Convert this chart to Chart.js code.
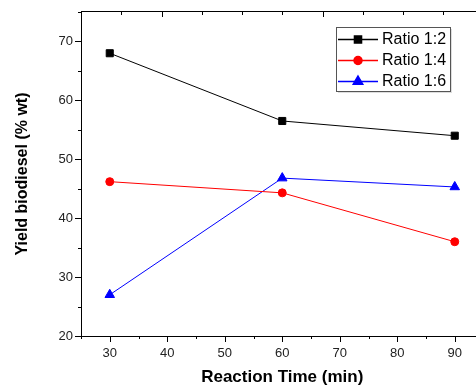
<!DOCTYPE html>
<html>
<head>
<meta charset="utf-8">
<script src="https://cdn.jsdelivr.net/npm/chart.js@4.4.1/dist/chart.umd.min.js"></script>
<style>
  html, body { margin: 0; padding: 0; background: #fff; overflow: hidden; }
  #wrap { position: relative; width: 490px; height: 388px; }
</style>
</head>
<body>
<div id="wrap"><canvas id="yieldChart" width="490" height="388"></canvas></div>
<script>
const times = [30, 60, 90];
const ratio12 = [68.0, 56.5, 54.0];
const ratio14 = [46.2, 44.3, 36.0];
const ratio16 = [27.0, 46.8, 45.3];
const seriesNames = ['Ratio 1:2', 'Ratio 1:4', 'Ratio 1:6'];
const xTicks = [30, 40, 50, 60, 70, 80, 90];
const yTicks = [20, 30, 40, 50, 60, 70];

const FONT = 'Arial, "Liberation Sans", sans-serif';

function pts(vals) {
  return times.map((t, i) => ({ x: t, y: vals[i] }));
}

// frame, major/minor ticks (Origin style)
const framePlugin = {
  id: 'frame',
  afterDraw(chart) {
    const { ctx, chartArea: a, scales } = chart;
    const x = scales.x, y = scales.y, top = scales.top;
    ctx.save();
    ctx.strokeStyle = '#000';
    ctx.lineWidth = 1;
    ctx.beginPath();
    ctx.moveTo(a.left + 0.5, a.top - 0.5);
    ctx.lineTo(a.left + 0.5, a.bottom + 3);
    ctx.moveTo(a.left, a.bottom + 0.5);
    ctx.lineTo(a.right, a.bottom + 0.5);
    ctx.moveTo(a.left, a.top - 0.5);
    ctx.lineTo(a.right, a.top - 0.5);
    ctx.moveTo(a.right - 0.5, a.top);
    ctx.lineTo(a.right - 0.5, a.bottom);
    // left axis ticks
    for (let v = 20; v <= 75; v += 5) {
      const py = Math.round(y.getPixelForValue(v)) + 0.5;
      const len = v % 10 === 0 ? 6 : 3;
      ctx.moveTo(a.left - len, py);
      ctx.lineTo(a.left, py);
    }
    // bottom axis ticks
    for (let v = 30; v <= 95; v += 5) {
      const px = Math.round(x.getPixelForValue(v)) + 0.5;
      const len = v % 10 === 0 ? 6 : 3;
      ctx.moveTo(px, a.bottom);
      ctx.lineTo(px, a.bottom + len);
    }
    // top axis ticks (inward)
    for (let v = 1; v <= 9; v++) {
      const px = Math.round(top.getPixelForValue(v)) + 0.5;
      const len = v % 4 === 2 ? 5 : 3;
      ctx.moveTo(px, a.top);
      ctx.lineTo(px, a.top + len);
    }
    ctx.stroke();
    ctx.restore();
  }
};

// legend box with line + marker samples
const legendPlugin = {
  id: 'boxLegend',
  afterDraw(chart) {
    const ctx = chart.ctx;
    const bx = 336, by = 27, bw = 114, bh = 64;
    ctx.save();
    ctx.fillStyle = '#ddd';
    ctx.fillRect(bx + 2, by + 2, bw, bh);
    ctx.fillStyle = '#fff';
    ctx.fillRect(bx, by, bw, bh);
    ctx.strokeStyle = '#555';
    ctx.lineWidth = 1;
    ctx.strokeRect(bx + 0.5, by + 0.5, bw, bh);
    chart.data.datasets.forEach((ds, i) => {
      const ry = by + 12 + i * 21;
      ctx.strokeStyle = ds.borderColor;
      ctx.lineWidth = 1.5;
      ctx.beginPath();
      ctx.moveTo(bx + 2, ry + 0.5);
      ctx.lineTo(bx + 42, ry + 0.5);
      ctx.stroke();
      Chart.helpers.drawPoint(ctx, {
        pointStyle: ds.pointStyle,
        radius: ds.pointRadius,
        borderWidth: 1,
        rotation: 0
      }, bx + 22, ry + 0.5);
      ctx.fillStyle = ds.pointBackgroundColor;
      ctx.strokeStyle = ds.borderColor;
      ctx.fill();
      ctx.fillStyle = '#000';
      ctx.font = '16px ' + FONT;
      ctx.textBaseline = 'middle';
      ctx.textAlign = 'left';
      ctx.fillText(ds.label, bx + 46, ry + 1);
    });
    ctx.restore();
  }
};

const mk = (label, vals, color, style, r) => ({
  label,
  data: pts(vals),
  borderColor: color,
  backgroundColor: color,
  pointBackgroundColor: color,
  pointBorderColor: color,
  pointStyle: style,
  pointRadius: r,
  pointBorderWidth: 1,
  borderWidth: 1,
  tension: 0
});

new Chart(document.getElementById('yieldChart'), {
  type: 'line',
  data: {
    datasets: [
      mk(seriesNames[0], ratio12, '#000000', 'rect', 5),
      mk(seriesNames[1], ratio14, '#ff0000', 'circle', 4),
      mk(seriesNames[2], ratio16, '#0000ff', 'triangle', 5.5)
    ]
  },
  options: {
    responsive: false,
    animation: false,
    devicePixelRatio: 1,
    layout: { padding: { top: 12, right: 4, left: 0, bottom: 0 } },
    plugins: { legend: { display: false }, tooltip: { enabled: false } },
    scales: {
      x: {
        type: 'linear',
        position: 'bottom',
        min: 25,
        max: 95,
        afterFit(s) { s.height = 52; s.paddingLeft = 0; s.paddingRight = 0; },
        afterBuildTicks(s) { s.ticks = xTicks.map(v => ({ value: v })); },
        grid: { display: false, drawTicks: false },
        border: { display: false },
        ticks: { color: '#222', padding: 10, font: { family: FONT, size: 13 } },
        title: {
          display: true,
          text: 'Reaction Time (min)',
          color: '#000',
          padding: { top: 0, bottom: 0 },
          font: { family: FONT, size: 17, weight: 'bold' }
        }
      },
      top: {
        type: 'linear',
        position: 'top',
        min: 0,
        max: 10,
        display: true,
        afterFit(s) { s.height = 0; s.paddingLeft = 0; s.paddingRight = 0; },
        grid: { display: false, drawTicks: false },
        border: { display: false },
        ticks: { display: false }
      },
      y: {
        type: 'linear',
        position: 'left',
        min: 20,
        max: 75,
        afterFit(s) { s.width = 81; s.paddingTop = 0; s.paddingBottom = 0; },
        afterBuildTicks(s) { s.ticks = yTicks.map(v => ({ value: v })); },
        grid: { display: false, drawTicks: false },
        border: { display: false },
        ticks: { color: '#222', padding: 8, font: { family: FONT, size: 13 } },
        title: {
          display: true,
          text: 'Yield biodiesel (% wt)',
          color: '#000',
          padding: { top: 13, bottom: 0 },
          font: { family: FONT, size: 16, weight: 'bold' }
        }
      }
    }
  },
  plugins: [framePlugin, legendPlugin]
});
</script>
</body>
</html>
